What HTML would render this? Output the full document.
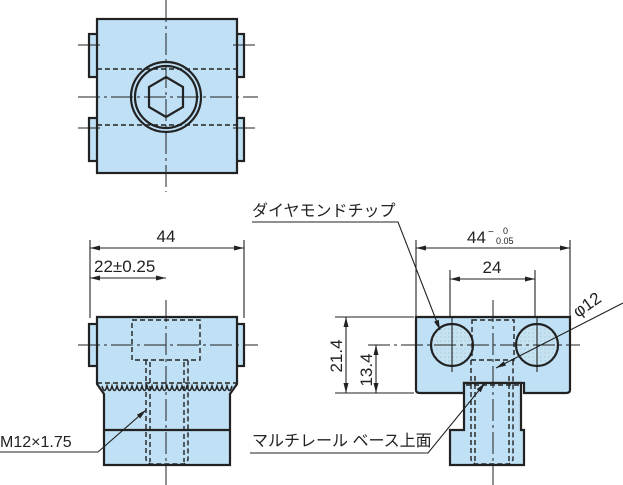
<!DOCTYPE html>
<html><head><meta charset="utf-8"><style>
body{margin:0;background:#fff}
svg{display:block;font-family:"Liberation Sans","Noto Sans CJK JP",sans-serif}
</style></head><body>
<svg width="623" height="485" viewBox="0 0 623 485" xmlns="http://www.w3.org/2000/svg">
<defs>
<marker id="a" markerWidth="10" markerHeight="6" refX="10" refY="3" orient="auto-start-reverse" markerUnits="userSpaceOnUse"><path d="M0,0.5 L10,3 L0,5.5z" fill="#222"/></marker>
<pattern id="dots" width="4" height="4" patternUnits="userSpaceOnUse"><rect width="4" height="4" fill="#c5e2f3"/><circle cx="1" cy="1" r="0.5" fill="#8ab"/></pattern>
</defs>
<g stroke="#222" stroke-width="2.2" fill="#bfe0f5">
<rect x="89" y="34" width="9" height="43"/><rect x="89" y="118" width="9" height="43"/>
<rect x="236" y="34" width="8" height="43"/><rect x="236" y="118" width="8" height="43"/>
<rect x="97" y="19" width="140" height="154"/>
<circle cx="166" cy="97" r="35"/><circle cx="166" cy="97" r="31"/>
<polygon points="166,77 183,87 183,107 166,117 149,107 149,87" />
<rect x="89" y="324" width="9" height="42"/><rect x="236" y="324" width="8" height="42"/>
<path d="M97,317 H237 V384 L230,394 V465 H104 V394 L97,384Z"/>
<line x1="104" y1="430" x2="230" y2="430"/>
<path d="M416,317 H570 V390 Q570,393 566,393 H524 V383 H464 V393 H420 Q416,393 416,390Z"/>
<path d="M464,383 H521 V430 H524 V465 H450 V430 H464Z"/>
<circle cx="452" cy="345" r="21" fill="url(#dots)"/><circle cx="537" cy="345" r="21" fill="url(#dots)"/>
</g>
<path d="M102,386 q2.5,9 5,0 q2.5,9 5,0 q2.5,9 5,0 q2.5,9 5,0 q2.5,9 5,0 q2.5,9 5,0 q2.5,9 5,0 q2.5,9 5,0 q2.5,9 5,0 q2.5,9 5,0 q2.5,9 5,0 q2.5,9 5,0 q2.5,9 5,0 q2.5,9 5,0 q2.5,9 5,0 q2.5,9 5,0 q2.5,9 5,0 q2.5,9 5,0 q2.5,9 5,0 q2.5,9 5,0 q2.5,9 5,0 q2.5,9 5,0 q2.5,9 5,0 q2.5,9 5,0 q2.5,9 5,0 q2.5,9 5,0" fill="none" stroke="#222" stroke-width="1.5"/>
<g stroke="#222" stroke-width="1.4" fill="none" stroke-dasharray="5,3">
<line x1="97" y1="69" x2="237" y2="69"/><line x1="97" y1="125" x2="237" y2="125"/>
<rect x="132" y="320" width="68" height="40"/>
<path d="M146,360 V460 L150,464 H184 L188,460 V360"/>
<line x1="150" y1="362" x2="150" y2="462"/><line x1="184" y1="362" x2="184" y2="462"/>
<line x1="97" y1="383" x2="237" y2="383"/>
<rect x="472" y="320" width="42" height="40"/>
<path d="M471,360 V460 L475,464 H509 L513,460 V360"/>
<line x1="475" y1="376" x2="475" y2="462"/><line x1="509" y1="376" x2="509" y2="462"/>
<line x1="466" y1="385" x2="519" y2="385"/>
</g>
<g stroke="#222" stroke-width="1" fill="none" stroke-dasharray="22,4,3,4">
<line x1="166" y1="0" x2="166" y2="192"/><line x1="78" y1="97" x2="258" y2="97"/>
<line x1="166" y1="300" x2="166" y2="485"/><line x1="78" y1="345" x2="258" y2="345"/>
<line x1="493" y1="300" x2="493" y2="485"/><line x1="368" y1="345" x2="580" y2="345"/>
</g>
<g stroke="#222" stroke-width="1.1">
<line x1="78" y1="45" x2="100" y2="45"/><line x1="233" y1="45" x2="255" y2="45"/>
<line x1="78" y1="128" x2="100" y2="128"/><line x1="233" y1="128" x2="255" y2="128"/>
<line x1="452" y1="318" x2="452" y2="372"/><line x1="537" y1="318" x2="537" y2="372"/>
<line x1="90" y1="240" x2="90" y2="318"/><line x1="244" y1="240" x2="244" y2="318"/>
<line x1="90" y1="248" x2="244" y2="248" marker-start="url(#a)" marker-end="url(#a)"/>
<line x1="90" y1="278" x2="166" y2="278" marker-start="url(#a)" marker-end="url(#a)"/>
<line x1="416" y1="240" x2="416" y2="316"/><line x1="570" y1="240" x2="570" y2="316"/>
<line x1="416" y1="248" x2="570" y2="248" marker-start="url(#a)" marker-end="url(#a)"/>
<line x1="450" y1="270" x2="450" y2="316"/><line x1="535" y1="270" x2="535" y2="316"/>
<line x1="450" y1="279" x2="535" y2="279" marker-start="url(#a)" marker-end="url(#a)"/>
<line x1="335" y1="317" x2="414" y2="317"/><line x1="335" y1="393" x2="414" y2="393"/>
<line x1="346" y1="317" x2="346" y2="393" marker-start="url(#a)" marker-end="url(#a)"/>
<line x1="376" y1="345" x2="376" y2="393" marker-start="url(#a)" marker-end="url(#a)"/>
<polyline points="0,452 98,452 146,410" fill="none" marker-end="url(#a)"/>
<polyline points="252,222 398,222 440,330" fill="none" marker-end="url(#a)"/>
<polyline points="250,453 428,453 485,383" fill="none" marker-end="url(#a)"/>
<line x1="623" y1="303" x2="496" y2="368" marker-end="url(#a)"/>
</g>
<g fill="#222" font-size="17">
<text x="166" y="242" text-anchor="middle">44</text>
<text x="94" y="272">22±0.25</text>
<text x="467" y="243">44</text>
<text x="488" y="235" font-size="10">−</text>
<text x="503" y="234" font-size="9">0</text>
<text x="496" y="244" font-size="9">0.05</text>
<text x="492" y="273" text-anchor="middle">24</text>
<text x="0" y="447" font-size="16">M12×1.75</text>
<text x="252" y="216" font-size="16">ダイヤモンドチップ</text>
<text x="252" y="446" font-size="16">マルチレール ベース上面</text>
<text transform="translate(342,356) rotate(-90)" text-anchor="middle">21.4</text>
<text transform="translate(372,370) rotate(-90)" text-anchor="middle">13.4</text>
<text transform="translate(578,318) rotate(-35)">φ12</text>
</g>
</svg>
</body></html>
